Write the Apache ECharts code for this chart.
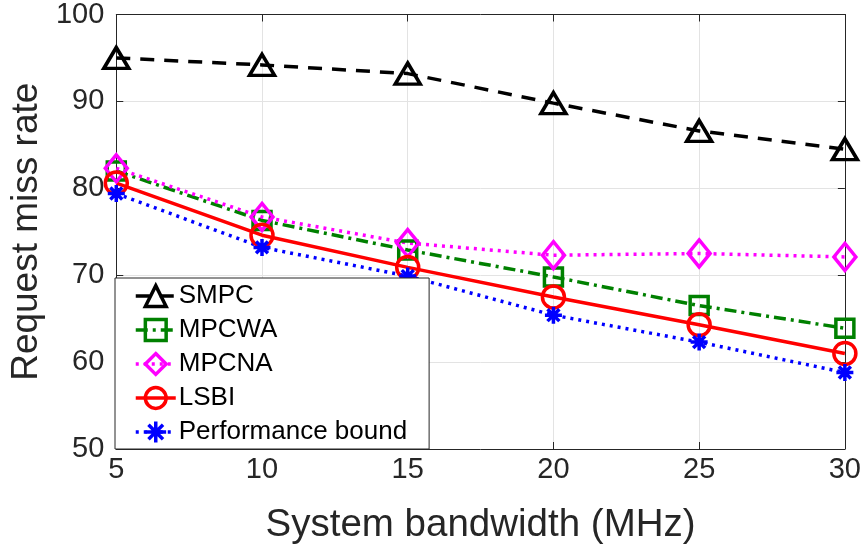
<!DOCTYPE html>
<html>
<head>
<meta charset="utf-8">
<script src="https://cdn.jsdelivr.net/npm/echarts@6/dist/echarts.min.js"></script>
<style>html,body{margin:0;padding:0;background:#fff;}#c{width:864px;height:552px;}</style>
</head>
<body>
<div id="c"></div>
<script>
const bandwidth = [5, 10, 15, 20, 25, 30];
const smpc = [95.0, 94.2, 93.2, 89.8, 86.6, 84.5];
const mpcwa = [82.0, 76.3, 72.9, 69.8, 66.5, 63.9];
const mpcna = [82.3, 76.7, 73.7, 72.3, 72.5, 72.1];
const lsbi = [80.6, 74.6, 70.9, 67.5, 64.3, 61.0];
const bound = [79.4, 73.2, 69.9, 65.4, 62.3, 58.8];
const xTicks = [5, 10, 15, 20, 25, 30];
const yTicks = [50, 60, 70, 80, 90, 100];

const pair = arr => bandwidth.map((x, i) => [x, arr[i]]);
const font = 'Liberation Sans, Arial, Helvetica, sans-serif';
const txt = '#262626';
const asterisk = 'path://M5,0L5,10M0,5L10,5M1.5,1.5L8.5,8.5M8.5,1.5L1.5,8.5';

function mk(name, data, color, type, symbol, size) {
  return {
    name: name, type: 'line', data: pair(data),
    symbol: symbol, symbolSize: size,
    lineStyle: {color: color, width: 3.5, type: type},
    itemStyle: {color: 'rgba(255,255,255,0)', borderColor: color, borderWidth: 3.5},
    emphasis: {disabled: true}, animation: false, z: 3
  };
}

const chart = echarts.init(document.getElementById('c'), null, {renderer: 'canvas'});
chart.setOption({
  backgroundColor: '#fff',
  animation: false,
  grid: {left: 115, right: 19, top: 14, bottom: 103, containLabel: false},
  xAxis: [{
    type: 'value', min: 5, max: 30, interval: 5,
    name: 'System bandwidth (MHz)', nameLocation: 'middle', nameGap: 57,
    nameTextStyle: {fontFamily: font, fontSize: 38.5, color: txt},
    axisLine: {show: true, lineStyle: {color: txt, width: 1}},
    axisTick: {show: true, inside: true, length: 7, lineStyle: {color: txt}},
    axisLabel: {fontFamily: font, fontSize: 29, color: txt, margin: 6},
    splitLine: {show: true, lineStyle: {color: '#e3e3e3', width: 1}}
  }, {
    type: 'value', position: 'top', min: 5, max: 30, interval: 5,
    axisLine: {show: true, lineStyle: {color: txt, width: 1}},
    axisTick: {show: true, inside: true, length: 7, lineStyle: {color: txt}},
    axisLabel: {show: false}, splitLine: {show: false}
  }],
  yAxis: [{
    type: 'value', min: 50, max: 100, interval: 10,
    name: 'Request miss rate', nameLocation: 'middle', nameGap: 67,
    nameTextStyle: {fontFamily: font, fontSize: 37, color: txt},
    axisLine: {show: true, lineStyle: {color: txt, width: 1}},
    axisTick: {show: true, inside: true, length: 7, lineStyle: {color: txt}},
    axisLabel: {fontFamily: font, fontSize: 29, color: txt, margin: 12},
    splitLine: {show: true, lineStyle: {color: '#e3e3e3', width: 1}}
  }, {
    type: 'value', position: 'right', min: 50, max: 100, interval: 10,
    axisLine: {show: true, lineStyle: {color: txt, width: 1}},
    axisTick: {show: true, inside: true, length: 7, lineStyle: {color: txt}},
    axisLabel: {show: false}, splitLine: {show: false}
  }],
  legend: {
    orient: 'vertical', left: 115, top: 278,
    padding: [5, 22, 4, 19], itemGap: 8, itemWidth: 40, itemHeight: 26,
    backgroundColor: '#fff', borderColor: '#262626', borderWidth: 1,
    lineStyle: {width: 3.5},
    itemStyle: {borderWidth: 3.5},
    textStyle: {fontFamily: font, fontSize: 26, color: '#000', padding: [0, 0, 0, -2]},
    data: ['SMPC', 'MPCWA', 'MPCNA', 'LSBI', 'Performance bound']
  },
  series: [
    mk('SMPC', smpc, '#000000', [14, 10], 'triangle', [25, 21]),
    mk('MPCWA', mpcwa, '#008000', [12, 5, 3, 5], 'rect', 18),
    mk('MPCNA', mpcna, '#ff00ff', [3, 5], 'diamond', [22, 27]),
    mk('LSBI', lsbi, '#ff0000', 'solid', 'circle', 22),
    mk('Performance bound', bound, '#0000ff', [3, 5], asterisk, 17)
  ]
});
</script>
</body>
</html>
